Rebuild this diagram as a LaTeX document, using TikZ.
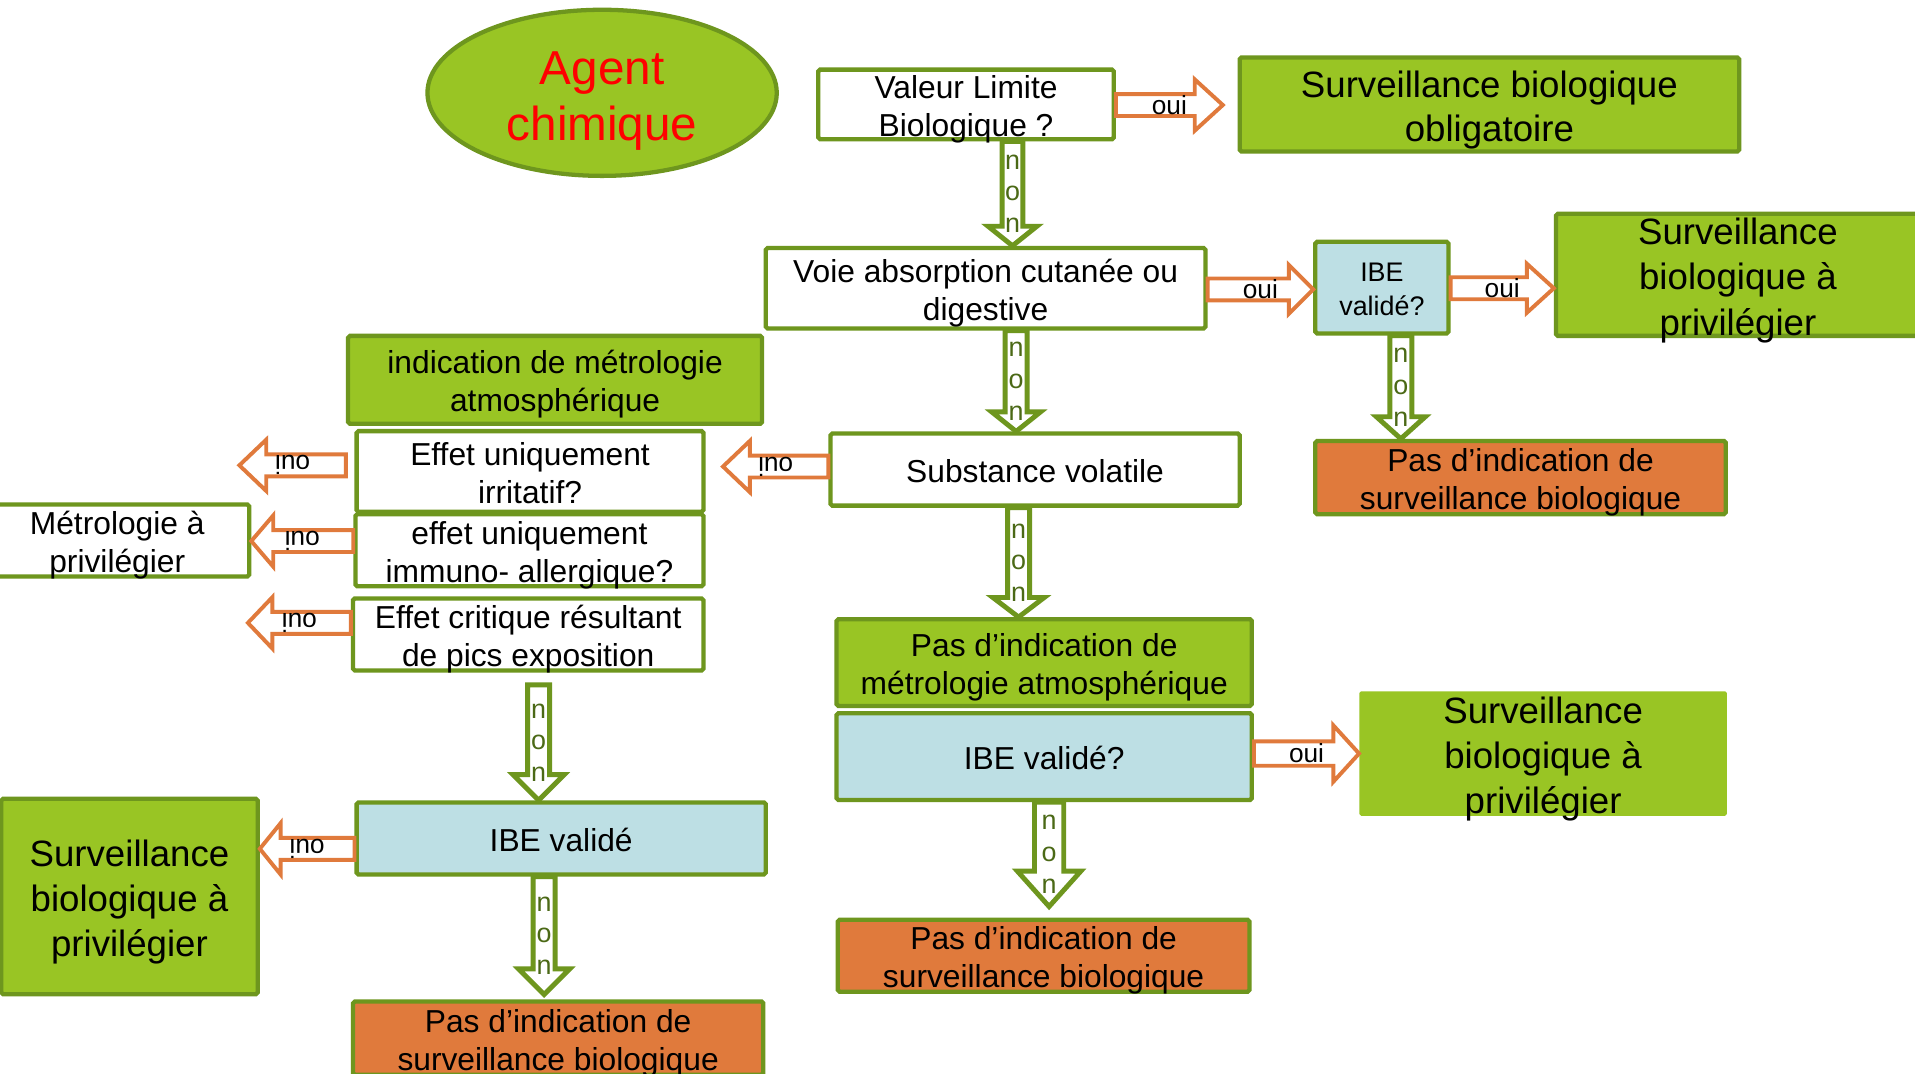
\documentclass[tikz,border=0pt]{standalone}
\usepackage{fontspec}
\setmainfont{Liberation Sans}
\usetikzlibrary{calc,shapes.geometric}
\definecolor{gfill}{RGB}{153,197,36}
\definecolor{gline}{RGB}{110,150,30}
\definecolor{ofill}{RGB}{224,122,60}
\definecolor{bfill}{RGB}{189,223,228}
\definecolor{ntext}{RGB}{75,105,22}
\definecolor{redtxt}{RGB}{255,0,0}
\newcommand\ts{\rule{0pt}{1.06em}}
\newcommand\bs{\rule[-0.24em]{0pt}{0.24em}}
% style, start, tip, shaft half, head half, head length, label style, label text, name
\newcommand\blockarrow[9]{%
  \path ($(#3)!#6!(#2)$) coordinate (#9h);
  \draw[#1] ($(#2)!#4!90:(#3)$) -- ($(#9h)!#4!90:(#3)$) -- ($(#9h)!#5!90:(#3)$) -- (#3)
     -- ($(#9h)!#5!-90:(#3)$) -- ($(#9h)!#4!-90:(#3)$) -- ($(#2)!#4!-90:(#3)$) -- cycle;
  \node[#7] (#9l) at ($(#2)!0.5!(#3)$) {#8};
}
\begin{document}
\begin{tikzpicture}[x=1pt,y=-1pt,
  box/.style={rectangle, draw=gline, line width=3.5pt, rounded corners=1.5pt, inner sep=0pt},
  wbox/.style={box, fill=white},
  gbox/.style={box, fill=gfill},
  obox/.style={box, fill=ofill},
  bbox/.style={box, fill=bfill},
  txt/.style={align=center, inner sep=0pt, font=\fontsize{26}{31}\selectfont},
  bigtxt/.style={align=center, inner sep=0pt, font=\fontsize{30}{37}\selectfont},
  oarr/.style={draw=ofill, fill=white, line width=3.2pt, line join=miter},
  garr/.style={draw=gline, fill=white, line width=4pt, line join=miter},
  olab/.style={inner sep=0pt, font=\fontsize{21.5}{24}\selectfont},
  rlab/.style={olab, rotate=180},
  nlab/.style={align=center, inner sep=0pt, text=ntext, yshift=3pt, font=\fontsize{22}{26}\selectfont}
]
\useasboundingbox (0,0) rectangle (1568,879);
\fill[white] (0,0) rectangle (1568,879);
\clip (0,0) rectangle (1568,879);

% ---- nodes ----
\node[ellipse, draw=gline, fill=gfill, line width=3.5pt, minimum width=286pt, minimum height=136pt, inner sep=0pt] (agent) at (493,76) {};
\node[align=center, inner sep=0pt, text=redtxt, font=\fontsize{39}{46}\selectfont] (agentt) at (agent) {\ts Agent\\chimique\bs};

\node[wbox, minimum width=242pt, minimum height=57pt] (vlb) at (791,85.5) {};
\node[txt] (vlbt) at (vlb) {\ts Valeur Limite\\Biologique ?\bs};

\node[gbox, minimum width=409pt, minimum height=77pt] (obl) at (1219.5,85.5) {};
\node[align=center, inner sep=0pt, font=\fontsize{30}{36}\selectfont] (oblt) at (obl) {\ts Surveillance biologique\\obligatoire\bs};

\node[wbox, minimum width=360pt, minimum height=66pt] (voie) at (807,236) {};
\node[txt] (voiet) at (voie) {\ts Voie absorption cutanée ou\\digestive\bs};

\node[bbox, minimum width=109pt, minimum height=75pt] (ibeA) at (1131.5,235.5) {};
\node[align=center, inner sep=0pt, font=\fontsize{22}{28}\selectfont] (ibeAt) at (ibeA) {\ts IBE\\validé?\bs};

\node[gbox, minimum width=298pt, minimum height=100pt] (survA) at (1423,225) {};
\node[bigtxt] (survAt) at (survA) {\ts Surveillance\\biologique à\\privilégier\bs};

\node[obox, minimum width=336pt, minimum height=60pt] (pasA) at (1245,391) {};
\node[txt] (pasAt) at (pasA) {\ts Pas d’indication de\\surveillance biologique\bs};

\node[gbox, minimum width=339pt, minimum height=72pt] (ind) at (454.5,311) {};
\node[txt] (indt) at (ind) {\ts indication de métrologie\\atmosphérique\bs};

\node[wbox, minimum width=335pt, minimum height=59pt] (subst) at (847.5,384.5) {};
\node[txt] (substt) at (subst) {\ts Substance volatile\bs};

\node[wbox, minimum width=284pt, minimum height=66pt] (irr) at (434,386) {};
\node[txt] (irrt) at (irr) {\ts Effet uniquement\\irritatif?\bs};

\node[wbox, minimum width=285pt, minimum height=59pt] (imm) at (433.5,450.5) {};
\node[txt] (immt) at (imm) {\ts effet uniquement\\immuno- allergique?\bs};

\node[wbox, minimum width=287pt, minimum height=59pt] (crit) at (432.5,519.5) {};
\node[txt] (critt) at (crit) {\ts Effet critique résultant\\de pics exposition\bs};

\node[wbox, minimum width=216pt, minimum height=59pt] (metro) at (96,442.5) {};
\node[txt] (metrot) at (metro) {\ts Métrologie à\\privilégier\bs};

\node[bbox, minimum width=335pt, minimum height=59pt] (ibeL) at (459.5,686.5) {};
\node[txt] (ibeLt) at (ibeL) {\ts IBE validé\bs};

\node[gbox, minimum width=210pt, minimum height=160pt] (survL) at (106,734) {};
\node[bigtxt] (survLt) at (survL) {\ts Surveillance\\biologique à\\privilégier\bs};

\node[obox, minimum width=336pt, minimum height=60pt] (pasL) at (457,850) {};
\node[txt] (pasLt) at (pasL) {\ts Pas d’indication de\\surveillance biologique\bs};

\node[gbox, minimum width=340pt, minimum height=71pt] (pasmet) at (855,542.5) {};
\node[txt] (pasmett) at (pasmet) {\ts Pas d’indication de\\métrologie atmosphérique\bs};

\node[bbox, minimum width=340pt, minimum height=71pt] (ibeM) at (855,619.5) {};
\node[txt] (ibeMt) at (ibeM) {\ts IBE validé?\bs};

\node[rectangle, fill=gfill, rounded corners=1.5pt, minimum width=301pt, minimum height=102pt, inner sep=0pt] (survM) at (1263.5,617) {};
\node[bigtxt] (survMt) at (survM) {\ts Surveillance\\biologique à\\privilégier\bs};

\node[obox, minimum width=337pt, minimum height=59pt] (pasM) at (854.5,782.5) {};
\node[txt] (pasMt) at (pasM) {\ts Pas d’indication de\\surveillance biologique\bs};

% ---- helper coordinates ----
\coordinate (x1) at (829,0);
\coordinate (x2) at (832,0);
\coordinate (x3) at (1147,0);
\coordinate (x4) at (834,0);
\coordinate (x5) at (441,0);
\coordinate (x6) at (445.5,0);
\coordinate (x7) at (859,0);
\coordinate (yo1) at (0,86);
\coordinate (yo2) at (0,237);
\coordinate (yo3) at (0,236);
\coordinate (yo4) at (0,617);
\coordinate (yA) at (0,381);
\coordinate (yB) at (0,443);
\coordinate (yC) at (0,510);
\coordinate (yD) at (0,695);
\coordinate (yE) at (0,382);

\coordinate (n5s) at ($(x5 |- crit.south)+(0,10)$);
\coordinate (n6e) at ($(x6 |- pasL.north)+(0,-4)$);
\coordinate (n7e) at ($(x7 |- pasM.north)+(0,-9)$);
\coordinate (o1e) at ($(obl.west |- yo1)+(-12,0)$);
\coordinate (tipA) at (196,381);
\coordinate (tipC) at (203,510);
\coordinate (tipE) at (592,382);
\coordinate (sA) at ($(irr.west |- yA)+(-7,0)$);

% ---- "non" arrows ----
\blockarrow{garr}{x1 |- vlb.south}{x1 |- voie.north}{8.5pt}{20pt}{16pt}{nlab}{\ts n\\o\\n\bs}{na}
\blockarrow{garr}{x2 |- voie.south}{x2 |- subst.north}{9pt}{20pt}{16pt}{nlab}{\ts n\\o\\n\bs}{nb}
\blockarrow{garr}{x3 |- ibeA.south}{x3 |- pasA.north}{9pt}{20pt}{18pt}{nlab}{\ts n\\o\\n\bs}{nc}
\blockarrow{garr}{x4 |- subst.south}{x4 |- pasmet.north}{9pt}{21pt}{16pt}{nlab}{\ts n\\o\\n\bs}{nd}
\blockarrow{garr}{n5s}{x5 |- ibeL.north}{9pt}{21pt}{21pt}{nlab}{\ts n\\o\\n\bs}{ne}
\blockarrow{garr}{x6 |- ibeL.south}{n6e}{9pt}{21pt}{21pt}{nlab}{\ts n\\o\\n\bs}{nf}
\blockarrow{garr}{x7 |- ibeM.south}{n7e}{12pt}{26pt}{29pt}{nlab}{\ts n\\o\\n\bs}{ng}

% ---- "oui" arrows ----
\blockarrow{oarr}{vlb.east |- yo1}{o1e}{9pt}{21pt}{23pt}{olab}{oui}{oa}
\blockarrow{oarr}{voie.east |- yo2}{ibeA.west |- yo2}{9pt}{20pt}{20pt}{olab}{oui}{ob}
\blockarrow{oarr}{ibeA.east |- yo3}{survA.west |- yo3}{9pt}{20pt}{22pt}{olab}{oui}{oc}
\blockarrow{oarr}{ibeM.east |- yo4}{survM.west |- yo4}{10pt}{23pt}{21pt}{olab}{oui}{od}
\blockarrow{oarr}{sA}{tipA}{9pt}{21pt}{22pt}{rlab}{oui}{la}
\blockarrow{oarr}{imm.west |- yB}{metro.east |- yB}{9pt}{21pt}{18pt}{rlab}{oui}{lb}
\blockarrow{oarr}{crit.west |- yC}{tipC}{9pt}{21pt}{20pt}{rlab}{oui}{lc}
\blockarrow{oarr}{ibeL.west |- yD}{survL.east |- yD}{9pt}{21pt}{17pt}{rlab}{oui}{ld}
\blockarrow{oarr}{subst.west |- yE}{tipE}{9pt}{21pt}{22pt}{rlab}{oui}{le}
\end{tikzpicture}
\end{document}
